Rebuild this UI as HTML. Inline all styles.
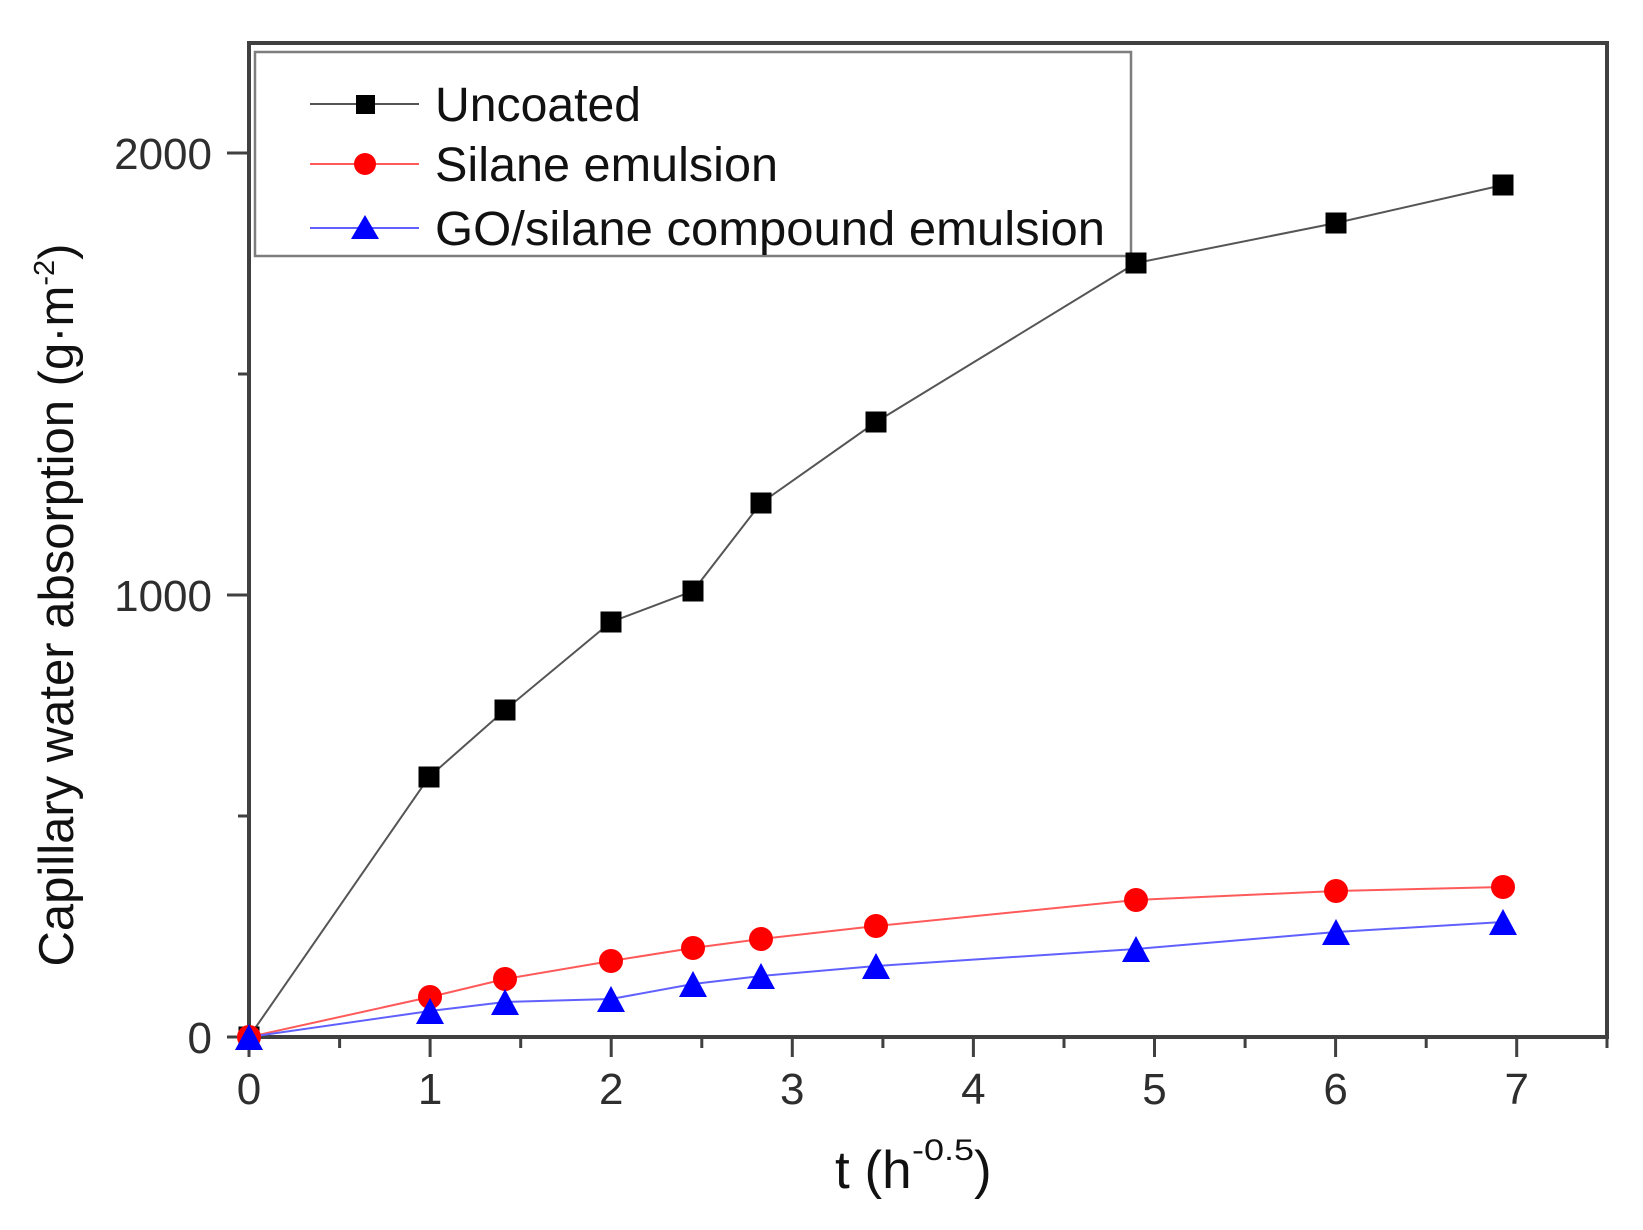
<!DOCTYPE html>
<html><head><meta charset="utf-8"><style>
html,body{margin:0;padding:0;background:#fff;}
svg{display:block;}
text{font-family:"Liberation Sans",Arial,sans-serif;}
</style></head><body>
<svg width="1643" height="1230" viewBox="0 0 1643 1230" xmlns="http://www.w3.org/2000/svg">
<rect x="0" y="0" width="1643" height="1230" fill="#fff"/>

<!-- legend box -->
<rect x="255" y="52" width="876" height="204" fill="#fff" stroke="#7d7d7d" stroke-width="2.5"/>
<line x1="310" y1="104" x2="419" y2="104" stroke="#555" stroke-width="2"/>
<rect x="356" y="95" width="19" height="19" fill="#000"/>
<line x1="310" y1="164" x2="419" y2="164" stroke="#ff5a5a" stroke-width="2"/>
<circle cx="365" cy="164" r="11" fill="#ff0000"/>
<line x1="310" y1="228" x2="419" y2="228" stroke="#6060ff" stroke-width="2"/>
<polygon points="365,215 379,239 351,239" fill="#0000ff"/>
<text x="435" y="121" font-size="48.5" fill="#111" textLength="206" lengthAdjust="spacingAndGlyphs">Uncoated</text>
<text x="435" y="181" font-size="48.5" fill="#111" textLength="343" lengthAdjust="spacingAndGlyphs">Silane emulsion</text>
<text x="435" y="245" font-size="48.5" fill="#111" textLength="670" lengthAdjust="spacingAndGlyphs">GO/silane compound emulsion</text>

<!-- frame -->
<rect x="249" y="43" width="1358" height="994" fill="none" stroke="#404040" stroke-width="4"/>

<!-- x ticks -->
<g stroke="#404040" stroke-width="3">
<line x1="249" y1="1037" x2="249" y2="1057"/>
<line x1="430.1" y1="1037" x2="430.1" y2="1057"/>
<line x1="611.2" y1="1037" x2="611.2" y2="1057"/>
<line x1="792.3" y1="1037" x2="792.3" y2="1057"/>
<line x1="973.4" y1="1037" x2="973.4" y2="1057"/>
<line x1="1154.5" y1="1037" x2="1154.5" y2="1057"/>
<line x1="1335.6" y1="1037" x2="1335.6" y2="1057"/>
<line x1="1516.7" y1="1037" x2="1516.7" y2="1057"/>
<line x1="339.6" y1="1037" x2="339.6" y2="1048"/>
<line x1="520.7" y1="1037" x2="520.7" y2="1048"/>
<line x1="701.8" y1="1037" x2="701.8" y2="1048"/>
<line x1="882.9" y1="1037" x2="882.9" y2="1048"/>
<line x1="1064" y1="1037" x2="1064" y2="1048"/>
<line x1="1245.1" y1="1037" x2="1245.1" y2="1048"/>
<line x1="1426.2" y1="1037" x2="1426.2" y2="1048"/>
<line x1="1607" y1="1037" x2="1607" y2="1048"/>
<!-- y ticks -->
<line x1="227" y1="1037" x2="249" y2="1037"/>
<line x1="227" y1="595" x2="249" y2="595"/>
<line x1="227" y1="153" x2="249" y2="153"/>
<line x1="238" y1="816" x2="249" y2="816"/>
<line x1="238" y1="374" x2="249" y2="374"/>
</g>

<!-- tick labels -->
<g font-size="44" fill="#2e2e2e" text-anchor="middle">
<text x="249" y="1104">0</text>
<text x="430.1" y="1104">1</text>
<text x="611.2" y="1104">2</text>
<text x="792.3" y="1104">3</text>
<text x="973.4" y="1104">4</text>
<text x="1154.5" y="1104">5</text>
<text x="1335.6" y="1104">6</text>
<text x="1516.7" y="1104">7</text>
</g>
<g font-size="44" fill="#2e2e2e" text-anchor="end">
<text x="212" y="1053">0</text>
<text x="212" y="611">1000</text>
<text x="212" y="169">2000</text>
</g>

<!-- axis titles -->
<text x="835" y="1188" font-size="53" fill="#111">t (h</text>
<text x="912" y="1160" font-size="30" fill="#111" textLength="62" lengthAdjust="spacingAndGlyphs">-0.5</text>
<text x="974" y="1188" font-size="53" fill="#111">)</text>

<text transform="translate(73,605) rotate(-90)" text-anchor="middle" font-size="49" fill="#111">Capillary water absorption (g·m<tspan font-size="29" dy="-19">-2</tspan><tspan dy="19">)</tspan></text>

<!-- series lines -->
<polyline fill="none" stroke="#555" stroke-width="2" points="249,1037 429,777 505,710 611,622 693,591 761,503 876,422 1136,263 1336,223 1503,185"/>
<polyline fill="none" stroke="#ff5a5a" stroke-width="2" points="249,1037 430,997 505,979 611,961 693,948 761,939 876,926 1136,900 1336,891 1503,887"/>
<polyline fill="none" stroke="#6060ff" stroke-width="2" points="249,1037 430,1011 505,1002 611,999 693,984 761,976 876,966 1136,949 1336,932 1503,922"/>

<!-- black squares -->
<g fill="#000">
<rect x="238.5" y="1026.5" width="21" height="21"/>
<rect x="418.5" y="766.5" width="21" height="21"/>
<rect x="494.5" y="699.5" width="21" height="21"/>
<rect x="600.5" y="611.5" width="21" height="21"/>
<rect x="682.5" y="580.5" width="21" height="21"/>
<rect x="750.5" y="492.5" width="21" height="21"/>
<rect x="865.5" y="411.5" width="21" height="21"/>
<rect x="1125.5" y="252.5" width="21" height="21"/>
<rect x="1325.5" y="212.5" width="21" height="21"/>
<rect x="1492.5" y="174.5" width="21" height="21"/>
</g>
<!-- red circles -->
<g fill="#ff0000">
<circle cx="249" cy="1037" r="12"/>
<circle cx="430" cy="997" r="12"/>
<circle cx="505" cy="979" r="12"/>
<circle cx="611" cy="961" r="12"/>
<circle cx="693" cy="948" r="12"/>
<circle cx="761" cy="939" r="12"/>
<circle cx="876" cy="926" r="12"/>
<circle cx="1136" cy="900" r="12"/>
<circle cx="1336" cy="891" r="12"/>
<circle cx="1503" cy="887" r="12"/>
</g>
<!-- blue triangles -->
<g fill="#0000ff">
<polygon points="249,1024 263,1050 235,1050"/>
<polygon points="430,998 444,1024 416,1024"/>
<polygon points="505,989 519,1015 491,1015"/>
<polygon points="611,986 625,1012 597,1012"/>
<polygon points="693,971 707,997 679,997"/>
<polygon points="761,963 775,989 747,989"/>
<polygon points="876,953 890,979 862,979"/>
<polygon points="1136,936 1150,962 1122,962"/>
<polygon points="1336,919 1350,945 1322,945"/>
<polygon points="1503,909 1517,935 1489,935"/>
</g>
</svg>
</body></html>
